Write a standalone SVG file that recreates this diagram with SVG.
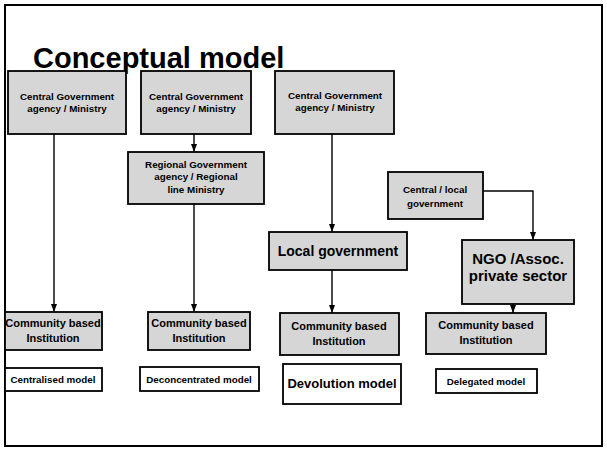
<svg xmlns="http://www.w3.org/2000/svg" width="607" height="450" viewBox="0 0 607 450">
<defs>
<marker id="arr" markerUnits="userSpaceOnUse" markerWidth="8" markerHeight="8" viewBox="0 0 8 8" refX="8" refY="4" orient="auto">
<path d="M0,1 L8,4 L0,7 Z" fill="#000"/>
</marker>
</defs>
<style>
.box{fill:#d6d6d6;stroke:#000;stroke-width:1.8}
.wbox{fill:#fff;stroke:#000;stroke-width:1.8}
text{font-family:"Liberation Sans",Arial,sans-serif;font-weight:bold;fill:#000;text-anchor:middle}
.s{font-size:9.8px}
.m{font-size:11px}
.l{font-size:14px}
.conn{fill:none;stroke:#000;stroke-width:1.4;marker-end:url(#arr)}
</style>
<rect x="0" y="0" width="607" height="450" fill="#fff"/>
<rect x="5" y="5" width="597" height="441" fill="none" stroke="#000" stroke-width="2"/>
<text x="33" y="68" style="font-size:29px;text-anchor:start">Conceptual model</text>

<g id="connectors">
<path class="conn" d="M54,134 V312"/>
<path class="conn" d="M194,134 V152"/>
<path class="conn" d="M194,204 V312"/>
<path class="conn" d="M332,134 V232"/>
<path class="conn" d="M332,270 V313"/>
<path class="conn" d="M483,191 H533 V240"/>
<path class="conn" d="M513,304 V313"/>
</g>

<g id="central1"><rect class="box" x="8" y="71" width="118" height="63"/>
<text class="s" x="67" y="100">Central Government</text><text class="s" x="67" y="112">agency / Ministry</text></g>
<g id="central2"><rect class="box" x="141" y="71" width="110" height="63"/>
<text class="s" x="196" y="100">Central Government</text><text class="s" x="196" y="112">agency / Ministry</text></g>
<g id="central3"><rect class="box" x="275" y="71" width="119" height="63"/>
<text class="s" x="335" y="99">Central Government</text><text class="s" x="335" y="111">agency / Ministry</text></g>

<g id="regional"><rect class="box" x="128" y="152" width="136" height="52"/>
<text class="s" x="196" y="168">Regional Government</text><text class="s" x="196" y="180">agency / Regional</text><text class="s" x="196" y="193">line Ministry</text></g>

<g id="centrallocal"><rect class="box" x="388" y="172" width="95" height="47"/>
<text class="s" x="435" y="193">Central / local</text><text class="s" x="435" y="207">government</text></g>

<g id="localgov"><rect class="box" x="269" y="232" width="138" height="38"/>
<text class="l" x="338" y="256">Local government</text></g>

<g id="ngo"><rect class="box" x="462" y="240" width="112" height="64"/>
<text x="518" y="264" style="font-size:15px">NGO /Assoc.</text><text x="518" y="281" style="font-size:15px">private sector</text></g>

<g id="cbi1"><rect class="box" x="5" y="312" width="97" height="38"/>
<text class="m" x="53" y="327">Community based</text><text class="m" x="53" y="342">Institution</text></g>
<g id="cbi2"><rect class="box" x="148" y="312" width="102" height="38"/>
<text class="m" x="199" y="327">Community based</text><text class="m" x="199" y="342">Institution</text></g>
<g id="cbi3"><rect class="box" x="280" y="313" width="119" height="42"/>
<text class="m" x="339" y="330">Community based</text><text class="m" x="339" y="345">Institution</text></g>
<g id="cbi4"><rect class="box" x="426" y="313" width="120" height="41"/>
<text class="m" x="486" y="329">Community based</text><text class="m" x="486" y="344">Institution</text></g>

<g id="centralised"><rect class="wbox" x="5" y="368" width="97" height="23"/>
<text class="s" x="53" y="383">Centralised model</text></g>
<g id="deconcentrated"><rect class="wbox" x="140" y="367" width="119" height="24"/>
<text class="s" x="199" y="383">Deconcentrated model</text></g>
<g id="devolution"><rect class="wbox" x="283" y="364" width="118" height="40"/>
<text x="342" y="388" style="font-size:13px">Devolution model</text></g>
<g id="delegated"><rect class="wbox" x="436" y="369" width="101" height="24"/>
<text class="s" x="486" y="385">Delegated model</text></g>
</svg>
